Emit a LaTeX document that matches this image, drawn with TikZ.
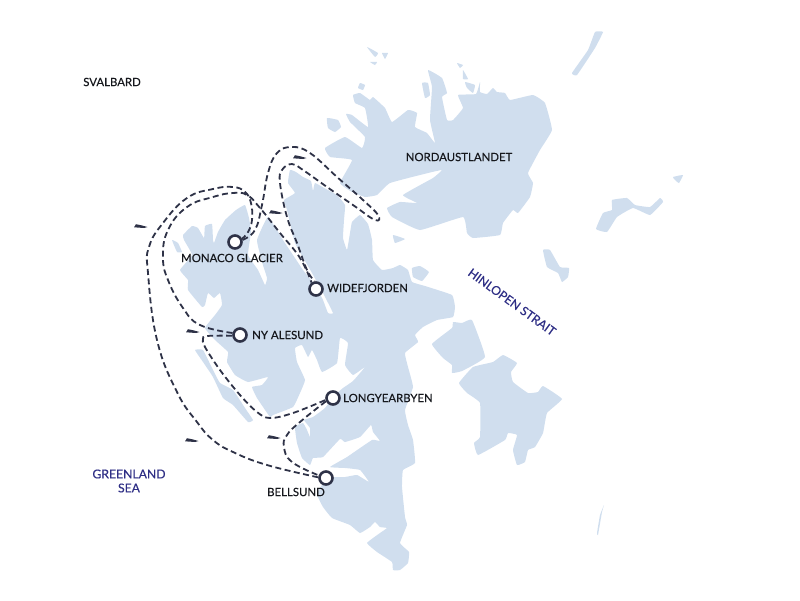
\documentclass[tikz,border=0pt]{standalone}
\usepackage{fontspec}
\setmainfont{Lato}
\newfontfamily\mapfont{Lato}[FakeBold=0.25]
\definecolor{landblue}{HTML}{D0DEEE}
\definecolor{routedark}{HTML}{2E3247}
\definecolor{seablue}{HTML}{2E2E85}
\definecolor{labelblack}{HTML}{16181D}
\tikzset{
  land/.style={fill=landblue},
  route/.style={draw=routedark, line width=1.8pt, dash pattern=on 6pt off 3.5pt},
  port/.style={circle, draw=routedark, fill=white, line width=2.6pt, minimum size=13pt, inner sep=0pt},
  placename/.style={text=labelblack, font=\mapfont\fontsize{11.4}{13}\selectfont, inner sep=0pt},
  seaname/.style={text=seablue, font=\mapfont\fontsize{12.2}{14}\selectfont, inner sep=0pt, align=center},
  shipmark/.pic={\fill[routedark] (-7,1.3) -- (-5,-1.8) -- (0,-0.8) -- (6.5,1) -- (3,2) -- cycle;}
}
\begin{document}
\begin{tikzpicture}[x=1pt, y=-1pt]
\useasboundingbox (0,0) rectangle (800,600);

% main island
\fill[land] plot[smooth cycle, tension=0.2] coordinates {(290,170) (296,172) (303,177) (311,181) (313,191) (315,183) (326,189) (337,195) (345,205) (344,220) (343,238) (347,250) (350,233) (352,222) (360,215) (368,224) (372,240) (373,260) (382,270) (393,268) (400,265) (408,270) (412,282) (425,286) (452,295) (455,307) (453,317) (437,320) (423,327) (415,335) (418,342) (405,353) (408,367) (413,387) (405,410) (408,425) (413,440) (415,463) (403,470) (402,487) (405,517) (407,525) (400,543) (409,552) (408,563) (400,570) (393,570) (392,562) (377,552) (367,543) (380,533) (387,528) (380,527) (375,522) (370,527) (360,533) (350,525) (332,518) (323,507) (317,495) (320,488) (327,478) (333,477) (345,477) (357,475) (369,482) (360,470) (345,468) (330,467) (347,457) (372,440) (380,441) (373,432) (371,425) (360,437) (345,442) (340,439) (323,457) (313,458) (310,465) (302,458) (297,443) (295,427) (303,423) (307,430) (310,437) (310,428) (304,420) (313,417) (325,408) (335,395) (343,388) (353,381) (365,367) (353,375) (345,365) (348,343) (340,338) (337,363) (322,372) (317,360) (312,350) (308,357) (302,345) (295,348) (297,362) (305,380) (300,393) (293,407) (273,415) (270,417) (257,398) (252,387) (262,385) (268,377) (248,382) (235,375) (227,362) (228,352) (215,340) (205,328) (215,315) (222,305) (220,293) (214,298) (208,293) (205,305) (202,307) (188,290) (188,280) (180,270) (192,255) (184,240) (183,235) (192,226) (198,228) (204,238) (205,226) (212,224) (213,240) (214,243) (218,232) (225,220) (236,210) (245,205) (249,218) (251,232) (248,255) (258,270) (265,285) (267,278) (262,262) (257,240) (268,217) (283,240) (303,270) (315,285) (323,300) (328,313) (333,313) (323,293) (312,273) (295,243) (287,210) (284,200) (295,193) (288,183)};

% forland
\fill[land] plot[smooth cycle, tension=0.2] coordinates {(195,350) (203,350) (213,370) (220,383) (233,390) (245,408) (253,420) (248,422) (233,405) (223,398) (213,377) (203,362)};
\fill[land] plot[smooth cycle, tension=0.2] coordinates {(172,240) (178,243) (182,252) (177,252)};

% nordaustlandet
\fill[land] plot[smooth cycle, tension=0.2] coordinates {(340,183) (352,192) (365,197) (377,195) (390,183) (428,173) (442,170) (433,178) (403,195) (417,203) (400,202) (387,208) (392,217) (420,230) (463,217) (467,233) (473,238) (500,235) (503,223) (513,210) (518,213) (530,197) (533,183) (528,173) (540,150) (552,130) (545,103) (533,95) (510,100) (505,93) (497,92) (493,88) (487,94) (480,92) (480,82) (476,94) (458,95) (463,108) (453,120) (447,120) (442,97) (447,93) (442,78) (428,70) (432,87) (430,120) (435,143) (427,133) (415,127) (417,113) (408,110) (392,122) (385,108) (373,97) (370,100) (360,93) (353,95) (355,103) (365,108) (368,127) (352,115) (346,114) (350,122) (365,137) (362,148) (345,137) (325,148) (330,157) (352,160)};

% small islands
\fill[land] plot[smooth cycle, tension=0.2] coordinates {(327,118) (338,120) (341,127) (335,132) (328,128)};
\fill[land] plot[smooth cycle, tension=0.2] coordinates {(360,83) (365,85) (363,90) (358,88)};
\fill[land] plot[smooth cycle, tension=0.2] coordinates {(422,83) (428,83) (430,95) (425,98)};
\fill[land] plot[smooth cycle, tension=0.2] coordinates {(457,63) (463,65) (460,68)};
\fill[land] plot[smooth cycle, tension=0.2] coordinates {(463,70) (468,79) (463,79)};
\fill[land] plot[smooth cycle, tension=0.2] coordinates {(465,82) (475,85) (473,93) (467,88)};
\fill[land] plot[smooth cycle, tension=0.2] coordinates {(367,47) (378,53) (375,57)};
\fill[land] plot[smooth cycle, tension=0.2] coordinates {(382,53) (388,53) (385,59)};
\fill[land] plot[smooth cycle, tension=0.2] coordinates {(370,62) (377,62) (375,65)};
\fill[land] plot[smooth cycle, tension=0.2] coordinates {(595,32) (603,32) (595,48) (577,75) (572,73) (588,50)};
\fill[land] plot[smooth cycle, tension=0.2] coordinates {(612,200) (627,198) (635,205) (650,207) (660,198) (663,202) (650,215) (633,208) (617,217) (607,232) (596,229) (603,213) (612,210)};
\fill[land] plot[smooth cycle, tension=0.2] coordinates {(673,177) (683,175) (679,183) (675,180)};
\fill[land] plot[smooth cycle, tension=0.2] coordinates {(393,235) (405,239) (395,243)};
\fill[land] plot[smooth cycle, tension=0.2] coordinates {(543,250) (550,250) (560,267) (569,268) (568,277) (562,282) (558,273) (547,267)};
\fill[land] plot[smooth cycle, tension=0.2] coordinates {(412,268) (420,266) (429,272) (422,281) (413,277)};
\fill[land] plot[smooth cycle, tension=0.2] coordinates {(604,505) (602,512) (598,535) (597,533) (600,515)};

% barentsoya, edgeoya
\fill[land] plot[smooth cycle, tension=0.2] coordinates {(432,344) (452,328) (453,322) (462,323) (472,320) (485,357) (462,371) (452,373) (452,365) (443,358)};
\fill[land] plot[smooth cycle, tension=0.2] coordinates {(459,383) (473,367) (493,362) (503,355) (517,363) (511,372) (513,382) (528,393) (538,392) (543,386) (562,399) (547,413) (543,433) (535,447) (528,450) (525,462) (517,465) (513,450) (517,435) (508,433) (505,440) (478,455) (474,443) (480,437) (480,403) (467,393)};

% ports
\node[port] (monaco) at (235,242) {};
\node[port] (wide) at (316,289) {};
\node[port] (nyalesund) at (240,335) {};
\node[port] (longyear) at (333,398) {};
\node[port] (bellsund) at (326,478) {};

% routes
\draw[route] plot[smooth, tension=0.75] coordinates {(bellsund.175) (267,465) (233,452) (213,440) (197,422) (177,392) (157,340) (148,273) (149,247) (163,223) (187,198) (213,189) (233,187) (245,192) (251,203) (252,220) (248,232) (monaco.25)};
\draw[route] plot[smooth, tension=0.75] coordinates {(nyalesund.165) (200,325) (183,308) (168,280) (163,257) (168,230) (187,207) (213,197) (233,193) (247,195) (260,208) (280,233) (300,258) (wide.125)};
\draw[route] plot[smooth, tension=0.6] coordinates {(nyalesund.185) (207,336) (203,339) (205,347) (220,370) (240,395) (257,412) (270,418) (293,413) (longyear.195)};
\draw[route] plot[smooth, tension=0.75] coordinates {(longyear.205) (300,422) (287,435) (284,447) (292,462) (bellsund.160)};
\draw[route] plot[smooth, tension=0.7] coordinates {(monaco.15) (255,230) (262,205) (268,173) (277,153) (292,147) (310,153) (337,177) (363,200) (378,215) (375,220) (353,205) (327,187) (303,170) (292,164) (282,170) (280,183) (287,217) (297,243) (307,270) (wide.100)};

% ship marks
\pic at (141,226) {shipmark};
\pic at (193,331) {shipmark};
\pic at (276,212) {shipmark};
\pic at (300,157) {shipmark};
\pic at (192,440) {shipmark};
\pic at (274,437) {shipmark};

% labels
\node[placename] (svalbard) at (112,82) {SVALBARD};
\node[placename] (nordaust) at (459,157) {NORDAUSTLANDET};
\node[placename] (monacolabel) at (232,258) {MONACO GLACIER};
\node[placename, anchor=west] (widelabel) at (327,288) {WIDEFJORDEN};
\node[placename, anchor=west] (nylabel) at (252,335) {NY ALESUND};
\node[placename, anchor=west] (longlabel) at (343,398) {LONGYEARBYEN};
\node[placename] (belllabel) at (296,492) {BELLSUND};
\node[seaname] (greenland) at (129,481) {GREENLAND\\SEA};
\node[seaname, rotate=-36] (hinlopen) at (512,302) {HINLOPEN STRAIT};
\end{tikzpicture}
\end{document}
